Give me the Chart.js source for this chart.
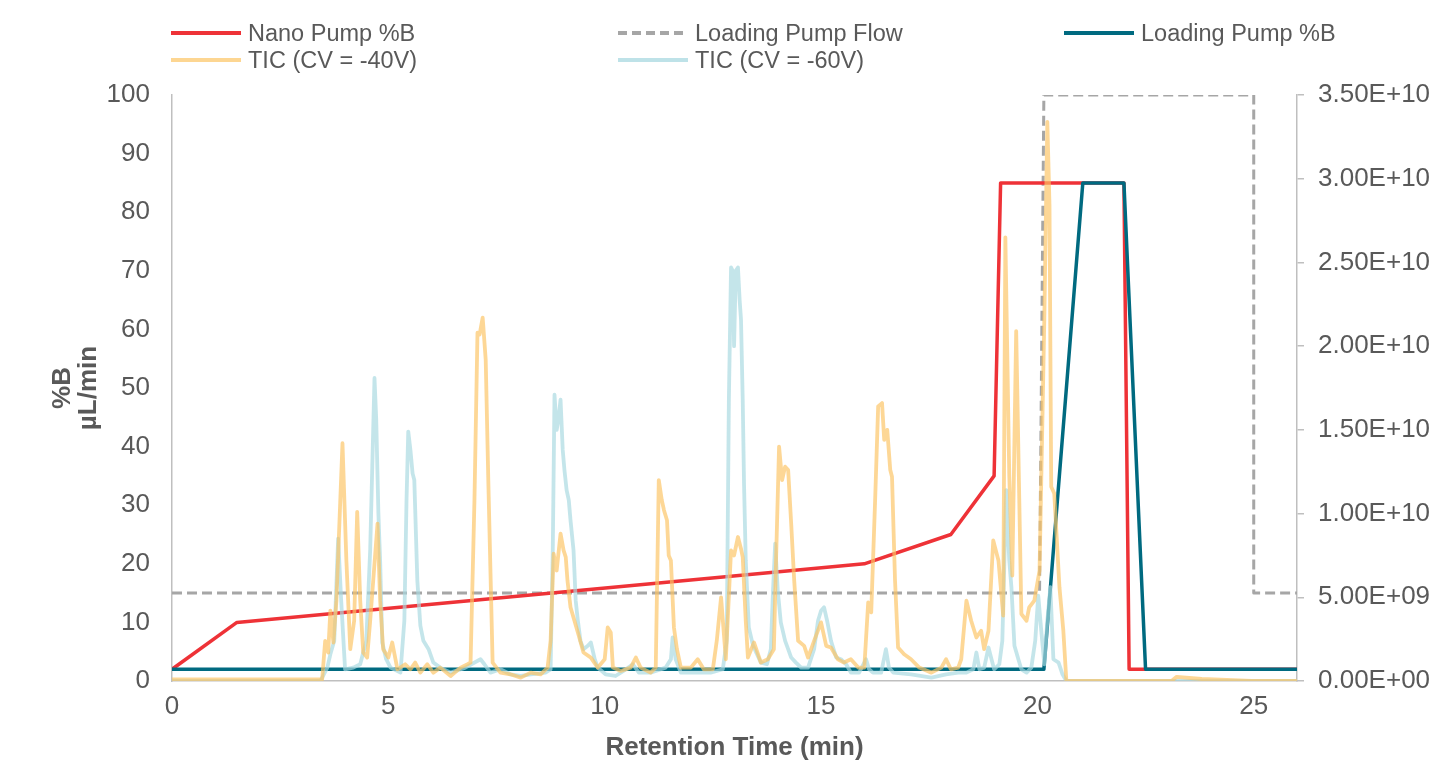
<!DOCTYPE html>
<html>
<head>
<meta charset="utf-8">
<script src="https://cdn.jsdelivr.net/npm/chart.js@4/dist/chart.umd.min.js"></script>
<style>
  html, body { margin: 0; padding: 0; background: #ffffff; }
  #wrap { position: relative; width: 1435px; height: 769px; font-family: "Liberation Sans", Arial, sans-serif; }
  #chart { position: absolute; left: 0; top: 0; }
  .lg { position: absolute; height: 28px; line-height: 28px; font-size: 23.5px; color: #595959; white-space: nowrap; }
  .sw { position: absolute; top: 12px; width: 70px; height: 0; }
  .lt { position: absolute; left: 77px; top: 0; }
</style>
</head>
<body>
<div id="wrap">
  <canvas id="chart" width="1435" height="769"></canvas>
</div>
<script>
// ---------------- DATA ----------------
const seriesNames = ['Nano Pump %B', 'Loading Pump Flow', 'Loading Pump %B', 'TIC (CV = -40V)', 'TIC (CV = -60V)'];

// Nano pump gradient (%B vs min)
const nanoTime = [0, 1.5, 16, 18, 19.0, 19.15, 22.0, 22.12, 26];
const nanoB    = [2, 10, 20, 25, 35, 85, 85, 2, 2];

// Loading pump flow (µL/min)
const flowTime = [0, 20.05, 20.15, 25.0, 25.0, 26];
const flowRate = [15, 15, 100, 100, 15, 15];

// Loading pump %B
const loadTime = [0, 20.15, 21.05, 22.0, 22.5, 26];
const loadB    = [2, 2, 85, 85, 2, 2];

// TIC (CV = -40V), signal in units of 1E+09
const tic40Time = [
  0, 2.96, 3.47, 3.54, 3.61, 3.66, 3.73, 3.80, 3.94, 4.03,
  4.12, 4.21, 4.28, 4.35, 4.42, 4.51, 4.58, 4.75, 4.81, 4.88,
  5.00, 5.09, 5.21, 5.39, 5.51, 5.62, 5.74, 5.90, 6.04, 6.20,
  6.44, 6.67, 6.83, 6.90, 6.99, 7.06, 7.11, 7.18, 7.25, 7.31,
  7.41, 7.59, 7.82, 8.06, 8.29, 8.52, 8.68, 8.75, 8.82, 8.89,
  8.98, 9.05, 9.10, 9.14, 9.21, 9.38, 9.51, 9.68, 9.84, 10.00,
  10.07, 10.14, 10.19, 10.37, 10.60, 10.72, 10.83, 11.06, 11.18, 11.25,
  11.32, 11.37, 11.44, 11.48, 11.53, 11.60, 11.67, 11.76, 11.99, 12.15,
  12.29, 12.50, 12.59, 12.69, 12.80, 12.92, 12.99, 13.08, 13.15, 13.19,
  13.26, 13.31, 13.45, 13.61, 13.77, 13.91, 13.96, 14.03, 14.10, 14.17,
  14.24, 14.31, 14.38, 14.47, 14.61, 14.70, 14.84, 15.00, 15.12, 15.23,
  15.39, 15.53, 15.69, 15.86, 16.00, 16.09, 16.16, 16.25, 16.32, 16.41,
  16.46, 16.53, 16.60, 16.64, 16.71, 16.78, 16.92, 17.08, 17.27, 17.55,
  17.78, 17.89, 18.00, 18.17, 18.24, 18.36, 18.47, 18.59, 18.70, 18.77,
  18.87, 18.98, 19.10, 19.21, 19.26, 19.35, 19.42, 19.51, 19.63, 19.75,
  19.81, 19.93, 20.05, 20.16, 20.23, 20.28, 20.32, 20.39, 20.51, 20.60,
  20.67, 23.10, 23.22, 23.80, 24.95, 26
];
const tic40Signal = [
  0.1, 0.1, 0.1, 2.4, 1.7, 4.2, 2.3, 4.8, 14.2, 7.2,
  1.9, 3.6, 10.1, 4.8, 1.7, 1.4, 3.6, 9.4, 4.8, 1.9,
  1.4, 2.3, 0.7, 1.0, 0.7, 1.1, 0.5, 1.0, 0.5, 0.8,
  0.3, 0.8, 1.0, 1.1, 10.8, 20.8, 20.7, 21.7, 19.2, 12.0,
  1.1, 0.5, 0.4, 0.2, 0.5, 0.4, 0.8, 2.4, 7.6, 6.6,
  8.8, 7.8, 7.4, 6.0, 4.4, 2.9, 1.7, 1.4, 0.8, 1.3,
  3.2, 2.9, 0.8, 0.6, 0.8, 1.4, 0.8, 0.5, 0.8, 12.0,
  10.8, 10.2, 9.6, 7.5, 7.2, 3.2, 1.9, 0.8, 0.8, 1.3,
  0.7, 0.7, 2.4, 5.0, 1.3, 7.8, 7.5, 8.6, 7.9, 7.4,
  3.6, 1.4, 2.3, 1.1, 1.3, 1.9, 7.2, 14.0, 12.0, 12.8,
  12.6, 9.4, 6.0, 2.4, 2.1, 1.4, 2.4, 3.5, 2.1, 2.0,
  1.3, 1.1, 1.3, 0.8, 0.8, 4.7, 4.1, 10.8, 16.4, 16.6,
  14.4, 15.0, 12.6, 12.2, 6.0, 2.0, 1.6, 1.3, 0.8, 0.5,
  0.8, 1.3, 0.7, 0.8, 1.3, 4.8, 3.6, 2.6, 3.0, 1.9,
  3.0, 8.4, 7.2, 3.9, 26.5, 12.3, 6.3, 20.9, 4.0, 3.6,
  4.4, 4.8, 6.6, 21.6, 33.4, 28.4, 11.6, 11.2, 5.6, 3.0,
  0, 0, 0.25, 0.12, 0, 0
];

// TIC (CV = -60V), signal in units of 1E+09
const tic60Time = [
  0, 3.43, 3.59, 3.66, 3.75, 3.84, 3.91, 4.00, 4.19, 4.35,
  4.49, 4.58, 4.68, 4.72, 4.77, 4.81, 4.86, 4.95, 5.05, 5.28,
  5.37, 5.42, 5.46, 5.51, 5.56, 5.60, 5.67, 5.74, 5.81, 5.93,
  6.04, 6.20, 6.44, 6.78, 7.13, 7.22, 7.36, 7.59, 7.82, 8.06,
  8.29, 8.63, 8.75, 8.80, 8.84, 8.89, 8.93, 8.98, 9.03, 9.07,
  9.12, 9.17, 9.21, 9.28, 9.33, 9.38, 9.44, 9.51, 9.61, 9.68,
  9.77, 9.84, 10.02, 10.25, 10.49, 10.65, 10.79, 11.06, 11.41, 11.53,
  11.57, 11.64, 11.76, 12.11, 12.45, 12.73, 12.82, 12.87, 12.92, 12.96,
  12.99, 13.03, 13.08, 13.12, 13.15, 13.19, 13.22, 13.26, 13.33, 13.43,
  13.52, 13.61, 13.75, 13.84, 13.89, 13.94, 14.00, 14.07, 14.17, 14.24,
  14.31, 14.42, 14.54, 14.70, 14.84, 14.93, 15.00, 15.07, 15.14, 15.23,
  15.35, 15.46, 15.58, 15.69, 15.88, 16.04, 16.11, 16.20, 16.39, 16.50,
  16.57, 16.67, 17.08, 17.55, 17.89, 18.17, 18.36, 18.52, 18.59, 18.66,
  18.77, 18.87, 18.94, 19.00, 19.12, 19.19, 19.28, 19.35, 19.40, 19.47,
  19.56, 19.63, 19.75, 19.86, 19.95, 20.02, 20.09, 20.16, 20.23, 20.30,
  20.37, 20.49, 20.58, 20.67, 26
];
const tic60Signal = [
  0, 0, 0.8, 1.6, 2.4, 8.5, 4.8, 0.7, 0.8, 1.0,
  2.4, 7.8, 18.1, 15.6, 10.0, 7.2, 2.3, 1.3, 0.8, 0.5,
  3.6, 10.8, 14.9, 13.8, 12.4, 12.0, 6.0, 3.3, 2.4, 1.9,
  1.1, 0.8, 0.5, 0.8, 1.3, 1.0, 0.5, 0.7, 0.4, 0.3,
  0.4, 0.5, 0.7, 7.8, 17.1, 15.0, 15.6, 16.8, 13.8, 12.6,
  11.4, 10.8, 9.6, 7.8, 4.8, 3.6, 2.4, 1.9, 2.1, 2.3,
  1.3, 0.8, 0.4, 0.3, 0.7, 1.0, 0.5, 0.5, 0.8, 1.3,
  2.6, 1.3, 0.5, 0.5, 0.5, 0.7, 2.4, 16.8, 24.7, 24.5,
  20.0, 24.5, 24.7, 22.7, 21.6, 16.8, 11.8, 7.2, 3.2, 2.1,
  1.6, 1.1, 1.0, 1.9, 5.4, 8.2, 5.4, 3.5, 2.4, 1.9,
  1.4, 1.1, 0.8, 0.8, 1.9, 3.6, 4.2, 4.4, 3.6, 2.4,
  1.4, 1.3, 1.0, 0.5, 0.5, 1.3, 0.7, 0.5, 0.5, 1.9,
  0.8, 0.5, 0.4, 0.2, 0.4, 0.5, 0.5, 0.7, 1.7, 0.7,
  0.8, 2.0, 1.3, 0.7, 1.0, 2.4, 11.4, 7.2, 5.6, 2.1,
  1.3, 0.7, 0.5, 0.8, 2.4, 5.1, 3.0, 1.0, 3.6, 5.6,
  1.3, 1.1, 0.4, 0, 0
];

// Axis tick settings
const xTickStep = 5, xMin = 0, xMax = 26;
const leftTickStep = 10, leftMax = 100;
const rightTickStep = 5, rightMax = 35; // units of 1E+09

// ---------------- STYLE ----------------
const colors = {
  nano: '#EE3237',
  flow: '#A6A6A6',
  load: '#006A80',
  tic40: 'rgba(252, 196, 100, 0.68)',
  tic60: 'rgba(168, 216, 224, 0.68)'
};
const textColor = '#595959';
const axisColor = '#BFBFBF';
const fontFamily = '"Liberation Sans", Arial, sans-serif';

function pts(xs, ys) { return xs.map((x, i) => ({ x: x, y: ys[i] })); }

function sciLabel(v) {
  const n = v * 1e9;
  if (n === 0) return '0.00E+00';
  const e = Math.floor(Math.log10(n) + 1e-9);
  const m = n / Math.pow(10, e);
  return m.toFixed(2) + 'E+' + String(e).padStart(2, '0');
}

// ---------------- HTML LEGEND ----------------
const legendLayout = [
  { x: 171, y: 19, style: 'solid', color: colors.nano, w: 4 },
  { x: 618, y: 19, style: 'dashed', color: colors.flow, w: 4 },
  { x: 1064, y: 19, style: 'solid', color: colors.load, w: 4 },
  { x: 171, y: 46, style: 'solid', color: 'rgba(252, 200, 110, 0.75)', w: 4 },
  { x: 618, y: 46, style: 'solid', color: 'rgba(168, 216, 224, 0.75)', w: 4 }
];
const wrap = document.getElementById('wrap');
seriesNames.forEach((name, i) => {
  const L = legendLayout[i];
  const d = document.createElement('div');
  d.className = 'lg';
  d.style.left = L.x + 'px';
  d.style.top = L.y + 'px';
  const sw = document.createElement('div');
  sw.className = 'sw';
  sw.style.left = '0px';
  sw.style.borderTop = L.w + 'px ' + L.style + ' ' + L.color;
  if (L.style === 'dashed') {
    sw.style.borderTop = 'none';
    sw.style.height = L.w + 'px';
    sw.style.backgroundImage = 'repeating-linear-gradient(90deg,' + L.color + ' 0 9px, transparent 9px 14px)';
  }
  const t = document.createElement('div');
  t.className = 'lt';
  t.textContent = name;
  d.appendChild(sw);
  d.appendChild(t);
  wrap.appendChild(d);
});

// ---------------- CHART ----------------
const ctx = document.getElementById('chart').getContext('2d');
new Chart(ctx, {
  type: 'line',
  data: {
    datasets: [
      { label: seriesNames[0], data: pts(nanoTime, nanoB), yAxisID: 'y', borderColor: colors.nano, borderWidth: 3.5, order: 3 },
      { label: seriesNames[1], data: pts(flowTime, flowRate), yAxisID: 'y', borderColor: colors.flow, borderWidth: 3, borderDash: [10, 5], order: 4 },
      { label: seriesNames[2], data: pts(loadTime, loadB), yAxisID: 'y', borderColor: colors.load, borderWidth: 3.5, order: 2 },
      { label: seriesNames[3], data: pts(tic40Time, tic40Signal), yAxisID: 'y2', borderColor: colors.tic40, borderWidth: 3.8, order: 0 },
      { label: seriesNames[4], data: pts(tic60Time, tic60Signal), yAxisID: 'y2', borderColor: colors.tic60, borderWidth: 3.8, order: 1 }
    ]
  },
  options: {
    responsive: false,
    animation: false,
    elements: {
      point: { radius: 0, hoverRadius: 0 },
      line: { tension: 0, fill: false, borderJoinStyle: 'round', borderCapStyle: 'butt' }
    },
    layout: { padding: { left: 0, right: 0, top: 95, bottom: 0 } },
    plugins: { legend: { display: false }, tooltip: { enabled: false } },
    scales: {
      x: {
        type: 'linear',
        position: 'bottom',
        min: xMin, max: xMax,
        grid: { display: false },
        border: { display: true, color: axisColor, width: 1.5 },
        ticks: { stepSize: xTickStep, includeBounds: false, color: textColor, padding: 2, font: { family: fontFamily, size: 26 }, maxRotation: 0 },
        title: { display: true, text: 'Retention Time (min)', color: textColor, font: { family: fontFamily, size: 26, weight: 'bold', lineHeight: 1.0 }, padding: { top: 0, bottom: 8 } },
        afterFit: s => { s.height = 88; }
      },
      y: {
        type: 'linear',
        position: 'left',
        min: 0, max: leftMax,
        grid: { display: false },
        border: { display: true, color: axisColor, width: 1.5 },
        ticks: { stepSize: leftTickStep, color: textColor, padding: 14, font: { family: fontFamily, size: 26 } },
        title: { display: true, text: ['%B', 'µL/min'], color: textColor, font: { family: fontFamily, size: 26, weight: 'bold', lineHeight: 1.0 }, padding: { top: 50, bottom: 0 } },
        afterFit: s => { s.width = 172; }
      },
      y2: {
        type: 'linear',
        position: 'right',
        min: 0, max: rightMax,
        grid: { display: true, drawOnChartArea: false, drawTicks: true, tickLength: 7, color: axisColor, lineWidth: 1.5 },
        border: { display: true, color: axisColor, width: 1.5 },
        ticks: { stepSize: rightTickStep, color: textColor, padding: 14, font: { family: fontFamily, size: 26 }, callback: v => sciLabel(v) },
        afterFit: s => { s.width = 138; }
      }
    }
  }
});
</script>
</body>
</html>
